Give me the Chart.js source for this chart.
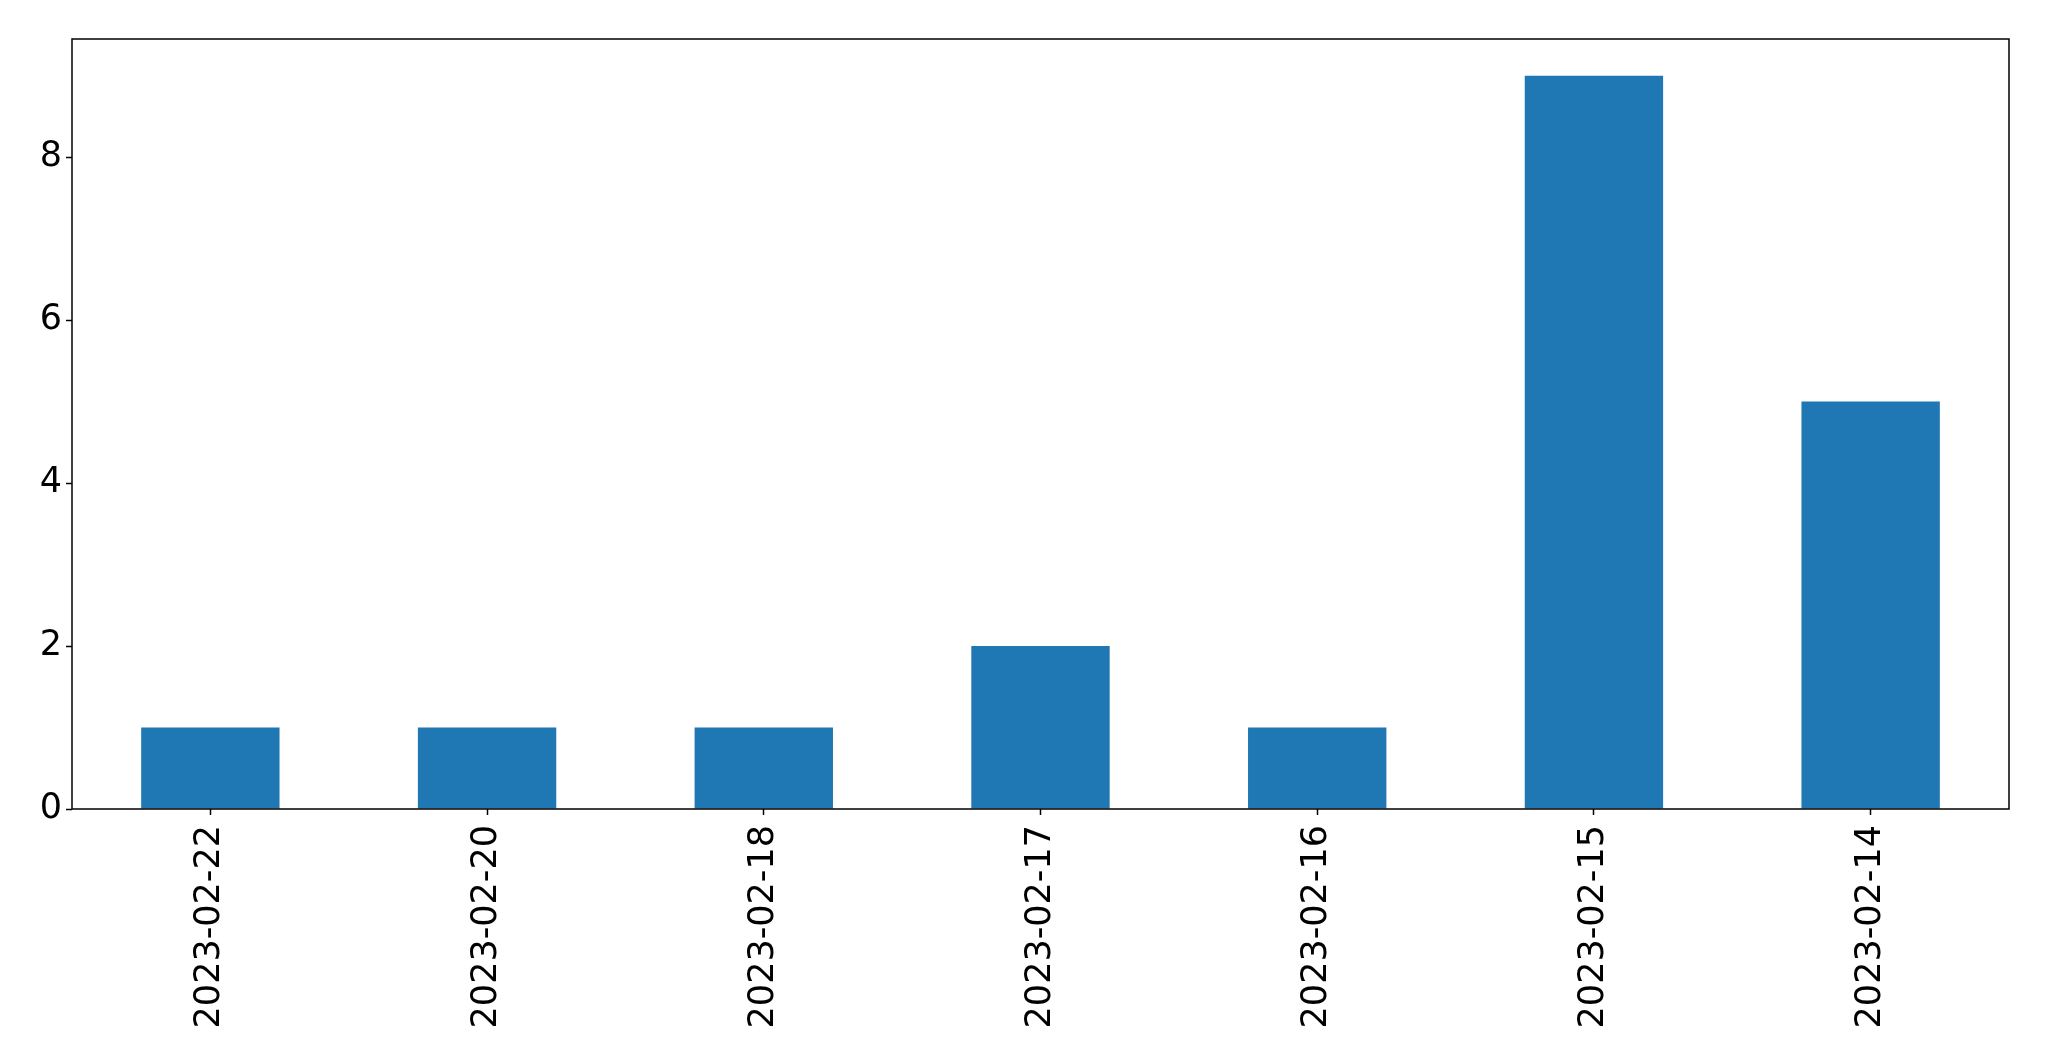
<!DOCTYPE html>
<html>
<head>
<meta charset="utf-8">
<script src="https://cdn.jsdelivr.net/npm/chart.js@4"></script>
<style>
  html, body { margin: 0; padding: 0; background: #fff; }
  #wrap { width: 2049px; height: 1061px; }
</style>
</head>
<body>
<div id="wrap"><canvas id="chart" width="2049" height="1061"></canvas></div>
<script>
// --- Data ---
const dates = ['2023-02-22', '2023-02-20', '2023-02-18', '2023-02-17', '2023-02-16', '2023-02-15', '2023-02-14'];
const counts = [1, 1, 1, 2, 1, 9, 5];
const yTicks = [0, 2, 4, 6, 8];
const yMax = 9.45;

// frame around the plot area (matplotlib style box)
const frame = {
  id: 'frame',
  afterDraw(chart) {
    const { ctx, chartArea: a } = chart;
    ctx.save();
    ctx.strokeStyle = '#000';
    ctx.lineWidth = 1.5;
    ctx.strokeRect(a.left, a.top, a.right - a.left, a.bottom - a.top);
    ctx.restore();
  }
};

const ctx = document.getElementById('chart').getContext('2d');
new Chart(ctx, {
  type: 'bar',
  data: {
    labels: dates,
    datasets: [{
      data: counts,
      backgroundColor: '#1f77b4',
      borderWidth: 0,
      barPercentage: 0.5,
      categoryPercentage: 1.0,
    }]
  },
  options: {
    responsive: false,
    animation: false,
    layout: { padding: { left: 0, top: 39, right: 40, bottom: 0 } },
    plugins: { legend: { display: false }, tooltip: { enabled: false } },
    scales: {
      x: {
        offset: true,
        grid: { display: true, drawOnChartArea: false, offset: false, tickLength: 6, tickColor: '#000', tickWidth: 1.5 },
        border: { display: false },
        ticks: {
          color: '#000',
          font: { family: 'DejaVu Sans', size: 35 },
          maxRotation: 90,
          minRotation: 90,
          autoSkip: false,
          padding: 10,
        },
        afterFit: scale => { scale.height = 1061 - 809; }
      },
      y: {
        min: 0,
        max: yMax,
        grid: { display: true, drawOnChartArea: false, tickLength: 6, tickColor: '#000', tickWidth: 1.5 },
        border: { display: false },
        afterBuildTicks: scale => { scale.ticks = yTicks.map(v => ({ value: v })); },
        ticks: {
          color: '#000',
          font: { family: 'DejaVu Sans', size: 35 },
          padding: 4,
        },
        afterFit: scale => { scale.width = 72; }
      }
    }
  },
  plugins: [frame]
});
</script>
</body>
</html>
